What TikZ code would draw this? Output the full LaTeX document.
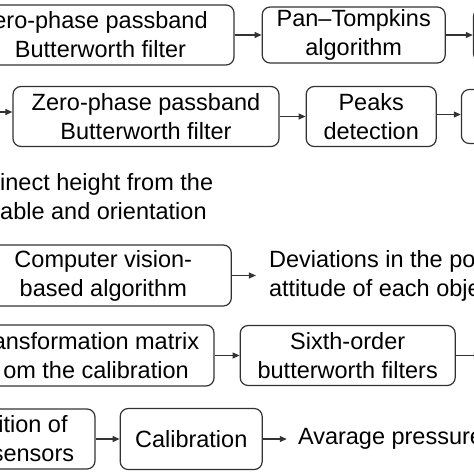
\documentclass[tikz,border=0pt]{standalone}
\usepackage{fontspec}
\setmainfont{Liberation Sans}
\usetikzlibrary{positioning, arrows.meta}

\begin{document}
\begin{tikzpicture}[
    x=1pt, y=-1pt,
    font=\fontsize{23.5pt}{29pt}\selectfont,
    >={Triangle[length=7pt, width=6pt]},
    procbox/.style={
        rectangle, rounded corners=8pt,
        draw=black!80, line width=1.2pt, fill=white,
        minimum height=60pt, align=center, inner sep=2pt
    },
    outtext/.style={
        align=left, inner ysep=0pt, anchor=west
    },
    flow/.style={
        ->, draw=black!80, line width=1.1pt
    }
]
\path[use as bounding box, fill=white] (0,0) rectangle (474,474);

% ============ ROW 1 ============
\node[procbox, minimum width=267pt] (zpfa) at (100.5,35)
    {ero-phase passband\\Butterworth filter};
\node[procbox, minimum width=183pt, minimum height=56pt, right=27pt of zpfa] (pantom)
    {Pan--Tompkins\\algorithm};
\node[procbox, minimum width=60pt, minimum height=52pt, right=27pt of pantom] (nexta) {};

\draw[flow] (zpfa) -- (pantom);
\draw[flow] (pantom) -- (nexta);

% ============ ROW 2 ============
\coordinate (inb) at (-5,112);
\node[procbox, minimum width=266pt] (zpfb) at (146,116.5)
    {Zero-phase passband\\Butterworth filter};
\node[procbox, minimum width=130pt, right=26pt of zpfb] (peaks)
    {Peaks\\detection};
\node[procbox, minimum width=60pt, minimum height=54pt, right=24pt of peaks] (nextb) {};

\draw[flow] (inb) -- (inb -| zpfb.west);
\draw[flow] (zpfb) -- (peaks);
\draw[flow] ([yshift=2pt]peaks.east) -- ([yshift=2pt]nextb.west);

% ============ ROW 3 ============
\node[outtext, inner xsep=0pt] (kinect) at (0,197)
    {inect height from the\\able and orientation};

% ============ ROW 4 ============
\node[procbox, minimum width=256pt, minimum height=61pt] (vision) at (103.3,275.5)
    {Computer vision-\\based algorithm};
\node[outtext, inner xsep=13pt, right=24pt of vision] (devs)
    {Deviations in the po\\attitude of each obje};

\draw[flow] (vision) -- (devs);

% ============ ROW 5 ============
\node[procbox, minimum width=236pt, minimum height=61pt] (transf) at (96,355.5)
    {ansformation matrix\\om the calibration};
\node[procbox, minimum width=215pt, right=25pt of transf] (sixth)
    {Sixth-order\\butterworth filters};
\coordinate[right=25pt of sixth] (outf);

\draw[flow] (transf) -- (sixth);
\draw[flow] (sixth) -- (outf);

% ============ ROW 6 ============
\node[procbox, minimum width=124pt] (sensors) at (33,439)
    {ition of\\sensors};
\node[procbox, minimum width=142pt, minimum height=61pt, right=24pt of sensors] (calib)
    {Calibration};
\node[outtext, inner xsep=11pt, right=24pt of calib] (avgp)
    {Avarage pressure};

\draw[flow] (sensors) -- (calib);
\draw[flow] (calib) -- (avgp);

\end{tikzpicture}
\end{document}
